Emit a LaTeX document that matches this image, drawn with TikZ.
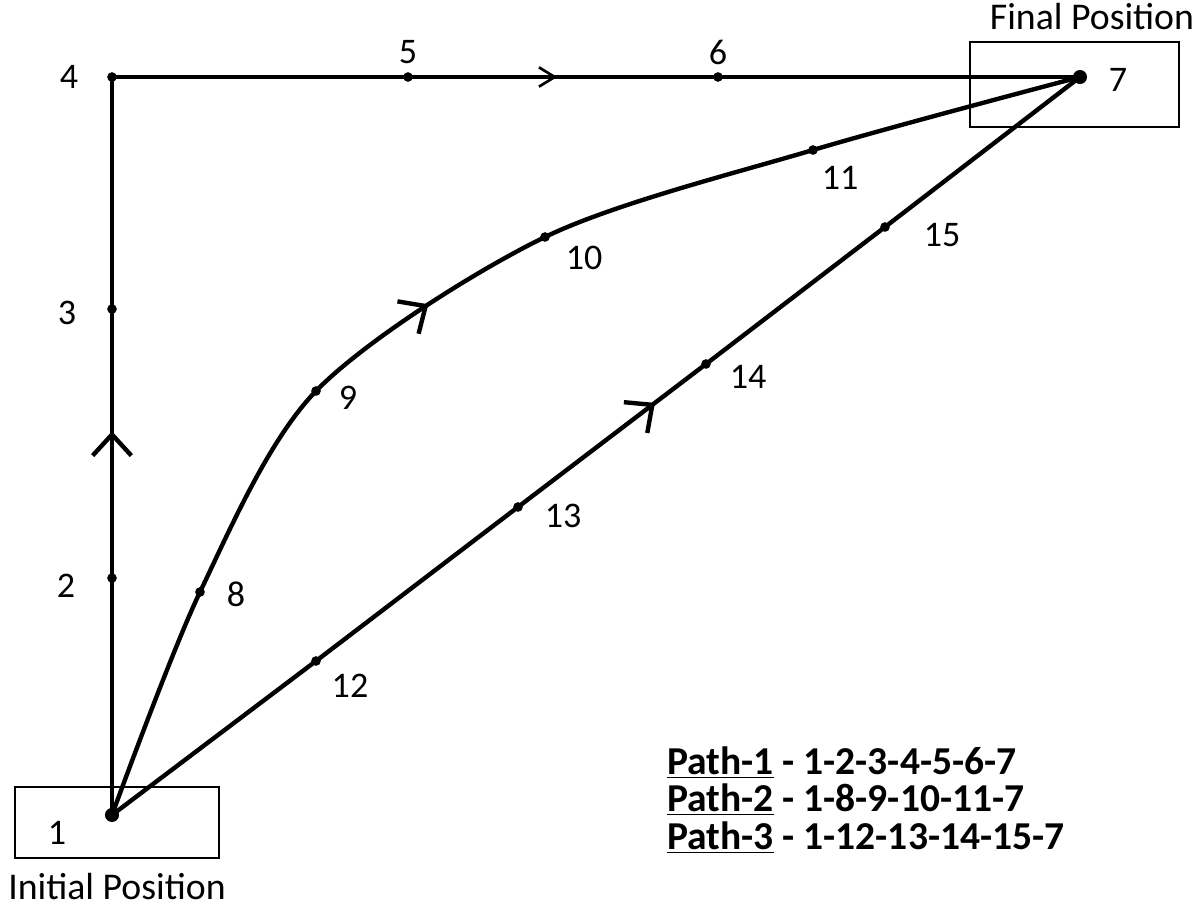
\documentclass[tikz,border=0pt]{standalone}
\usepackage{fontspec}
\setmainfont{Carlito}
\usetikzlibrary{arrows.meta,decorations.markings}

\begin{document}
\begin{tikzpicture}[
    x=0.02cm, y=-0.02cm,
    >={Straight Barb[length=12pt,width=22pt]},
    dot/.style={circle, fill, inner sep=0pt, minimum size=5.5pt},
    bigdot/.style={dot, minimum size=8pt},
    num/.style={font=\fontsize{20.5}{22}\selectfont},
    caption/.style={font=\fontsize{21.5}{24}\selectfont},
    box/.style={draw, line width=0.8pt},
    trail/.style={line width=2.5pt},
    midarrow/.style={postaction={decorate}, decoration={markings,
        mark=at position #1 with {\arrow{>}}}},
    smallarrow/.style={postaction={decorate}, decoration={markings,
        mark=at position #1 with {\arrow[line width=1.5pt]{Straight Barb[length=9pt,width=11pt]}}}}
]
\useasboundingbox (0,0) rectangle (1200,907);

% Cajas de inicio y fin
\draw[box] (15,787) rectangle (219,858);
\draw[box] (970,42) rectangle (1179,127);
\node[caption] (init) at (117,887) {Initial Position};
\node[caption] (fin) at (1092,17) {Final Position};

% Puntos
\node[bigdot] (p1) at (112,815) {};
\node[dot] (p2) at (112,578) {};
\node[dot] (p3) at (112,309) {};
\node[dot] (p4) at (112,77) {};
\node[dot] (p5) at (408,77) {};
\node[dot] (p6) at (718,77) {};
\node[bigdot] (p7) at (1080,77) {};
\node[dot] (p8) at (200,592) {};
\node[dot] (p9) at (316,391) {};
\node[dot] (p10) at (545,237) {};
\node[dot] (p11) at (813,150) {};
\node[dot] (p12) at (316,661) {};
\node[dot] (p13) at (518,507) {};
\node[dot] (p14) at (706,364) {};
\node[dot] (p15) at (885,227) {};

% Etiquetas
\node[num] (l1) at (57,833) {1};
\node[num] (l2) at (66,586) {2};
\node[num] (l3) at (67,313) {3};
\node[num] (l4) at (69,77) {4};
\node[num] (l5) at (408,52) {5};
\node[num] (l6) at (718,52) {6};
\node[num] (l7) at (1118,80) {7};
\node[num] (l8) at (236,594) {8};
\node[num] (l9) at (348,398) {9};
\node[num] (l10) at (584,258) {10};
\node[num] (l11) at (840,178) {11};
\node[num] (l12) at (350,686) {12};
\node[num] (l13) at (563,516) {13};
\node[num] (l14) at (748,377) {14};
\node[num] (l15) at (942,235) {15};

% Camino 1
\draw[trail, midarrow=0.52] (p1.center) -- (p2.center) -- (p3.center) -- (p4.center);
\draw[trail, smallarrow=0.46] (p4.center) -- (p5.center) -- (p6.center) -- (p7.center);

% Camino 2
\draw[trail, midarrow=0.47] plot[smooth, tension=0.5] coordinates
    {(p1.center) (p8.center) (p9.center) (p10.center) (p11.center) (p7.center)};

% Camino 3
\draw[trail, midarrow=0.56] (p1.center) -- (p12.center) -- (p13.center)
    -- (p14.center) -- (p15.center) -- (p7.center);

% Leyenda
\node[anchor=west, align=left, font=\fontsize{22.5}{21.5}\selectfont\bfseries] (key) at (661,800)
    {\underline{Path-1} - 1-2-3-4-5-6-7\\
     \underline{Path-2} - 1-8-9-10-11-7\\
     \underline{Path-3} - 1-12-13-14-15-7};

\end{tikzpicture}
\end{document}
